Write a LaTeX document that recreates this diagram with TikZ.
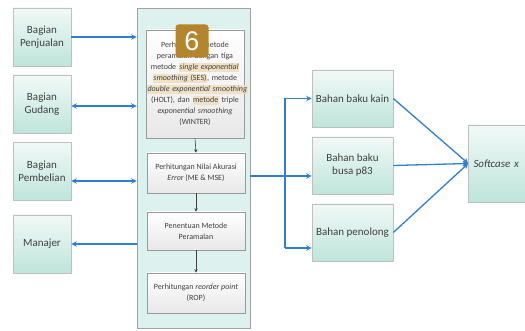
\documentclass[tikz,border=0pt]{standalone}
\usepackage{fontspec}
\setmainfont{Carlito}
\newfontfamily\badgefont{Liberation Sans}
\usetikzlibrary{arrows.meta,calc}
\definecolor{arrc}{HTML}{2F7FD0}
\definecolor{txtc}{HTML}{404040}
\definecolor{bordc}{HTML}{BFBFBF}
\definecolor{gtop}{HTML}{F1F9F7}
\definecolor{gbot}{HTML}{BEE5DA}
\definecolor{contc}{HTML}{DDF2EE}
\definecolor{hlc}{HTML}{F0E1C4}
\definecolor{badgec}{HTML}{B5852C}
\newcommand{\hlt}[1]{{\setlength{\fboxsep}{0.5pt}\colorbox{hlc}{\vphantom{Ag(}#1}}}
\tikzset{
  gbox/.style={draw=bordc, line width=0.6pt, top color=gtop, bottom color=gbot,
    minimum width=58pt, minimum height=58pt, inner sep=1pt, align=center,
    text=txtc, font=\fontsize{11}{13}\selectfont},
  rbox/.style={gbox, minimum width=81pt, minimum height=57pt},
  contbox/.style={draw=bordc!85!black, line width=0.6pt, fill=contc,
    minimum width=113pt, minimum height=320pt, inner sep=0pt},
  ibox/.style={draw=black!40, line width=0.6pt, top color=white, bottom color=black!9,
    minimum width=98pt, inner sep=1pt, align=center, text=txtc,
    font=\fontsize{8}{11}\selectfont},
  bluearr/.style={draw=arrc, line width=1.3pt},
  tipB/.style={-{Stealth[length=5.5pt,width=5.5pt]}},
  tipBB/.style={{Stealth[length=5.5pt,width=5.5pt]}-{Stealth[length=5.5pt,width=5.5pt]}},
  darr/.style={draw=black!75, line width=0.6pt, -{Stealth[length=3.5pt,width=3.5pt]}},
  badge/.style={fill=badgec, rounded corners=3pt, minimum width=33pt,
    minimum height=33pt, text=white, font=\badgefont\fontsize{27}{27}\selectfont, inner sep=0pt}
}
\begin{document}
\begin{tikzpicture}[x=1pt,y=-1pt]
\useasboundingbox (0,0) rectangle (525,331);
\clip (0,0) rectangle (525,331);

% left boxes
\node[gbox] (pj) at (42,37) {Bagian\\Penjualan};
\node[gbox] (gd) at (42,104) {Bagian\\Gudang};
\node[gbox] (pb) at (42,171.5) {Bagian\\Pembelian};
\node[gbox] (mj) at (42,244) {Manajer};

% container
\node[contbox] (main) at (193.5,168) {};

% inner boxes
\node[ibox, minimum height=108pt, text width=96pt] (b1) at (195,84)
 {Perhitungan metode\\
  peramalan dengan tiga\\
  metode \hlt{\textit{single exponential}}\\
  \hlt{\textit{smoothing} (SES)}, metode\\
  \hlt{\textit{double exponential smoothing}}\\
  (HOLT), dan \hlt{metode} triple\\
  \textit{exponential smoothing}\\
  (WINTER)};
\node[ibox, minimum height=40pt] (b2) at (196,173) {Perhitungan Nilai Akurasi\\\textit{Error} (ME \& MSE)};
\node[ibox, minimum height=38pt] (b3) at (196,231) {Penentuan Metode\\Peramalan};
\node[ibox, minimum height=40pt] (b4) at (196,293) {Perhitungan \textit{reorder point}\\(ROP)};

\draw[darr] (b1.south) -- (b2.north);
\draw[darr] (b2.south) -- (b3.north);
\draw[darr] (b3.south) -- (b4.north);

% badge
\node[badge] (bd) at (192,41) {6};

% left connectors
\draw[bluearr, tipB] (pj.east) -- (main.west |- pj.east);
\coordinate (gdy) at ([yshift=-2pt]gd.east);
\draw[bluearr, tipBB] (gdy) -- (main.west |- gdy);
\coordinate (pby) at ([yshift=-9.5pt]pb.east);
\draw[bluearr, tipBB] (pby) -- (main.west |- pby);
\draw[bluearr, tipB] (main.west |- mj.east) -- (mj.east);

% right boxes
\node[rbox] (kn) at (352.5,98.5) {Bahan baku kain};
\node[rbox] (bs) at (352.5,165.5) {Bahan baku\\busa p83};
\node[rbox] (pn) at (352.5,232.5) {Bahan penolong};
\node[rbox, minimum width=65pt, minimum height=77pt, text width=58pt, align=left,
      inner xsep=5pt, font=\itshape\fontsize{11}{13}\selectfont] (sc) at (502.5,163.5) {Softcase x};

\coordinate (bsy) at ([yshift=-10.5pt]bs.west);
\coordinate (pny) at ([yshift=-15.5pt]pn.west);
\coordinate (jn) at (285,0);
\draw[bluearr, tipB] (main.east |- bsy) -- (bsy);
\draw[bluearr] (jn |- kn.west) -- (jn |- pny);
\draw[bluearr, tipB] (jn |- kn.west) -- (kn.west);
\draw[bluearr, tipB] (jn |- pny) -- (pny);

\draw[bluearr, tipB] (kn.east) -- (sc.west);
\draw[bluearr, tipB] (bs.east) -- (sc.west);
\draw[bluearr, tipB] (pn.east) -- (sc.west);
\end{tikzpicture}
\end{document}
